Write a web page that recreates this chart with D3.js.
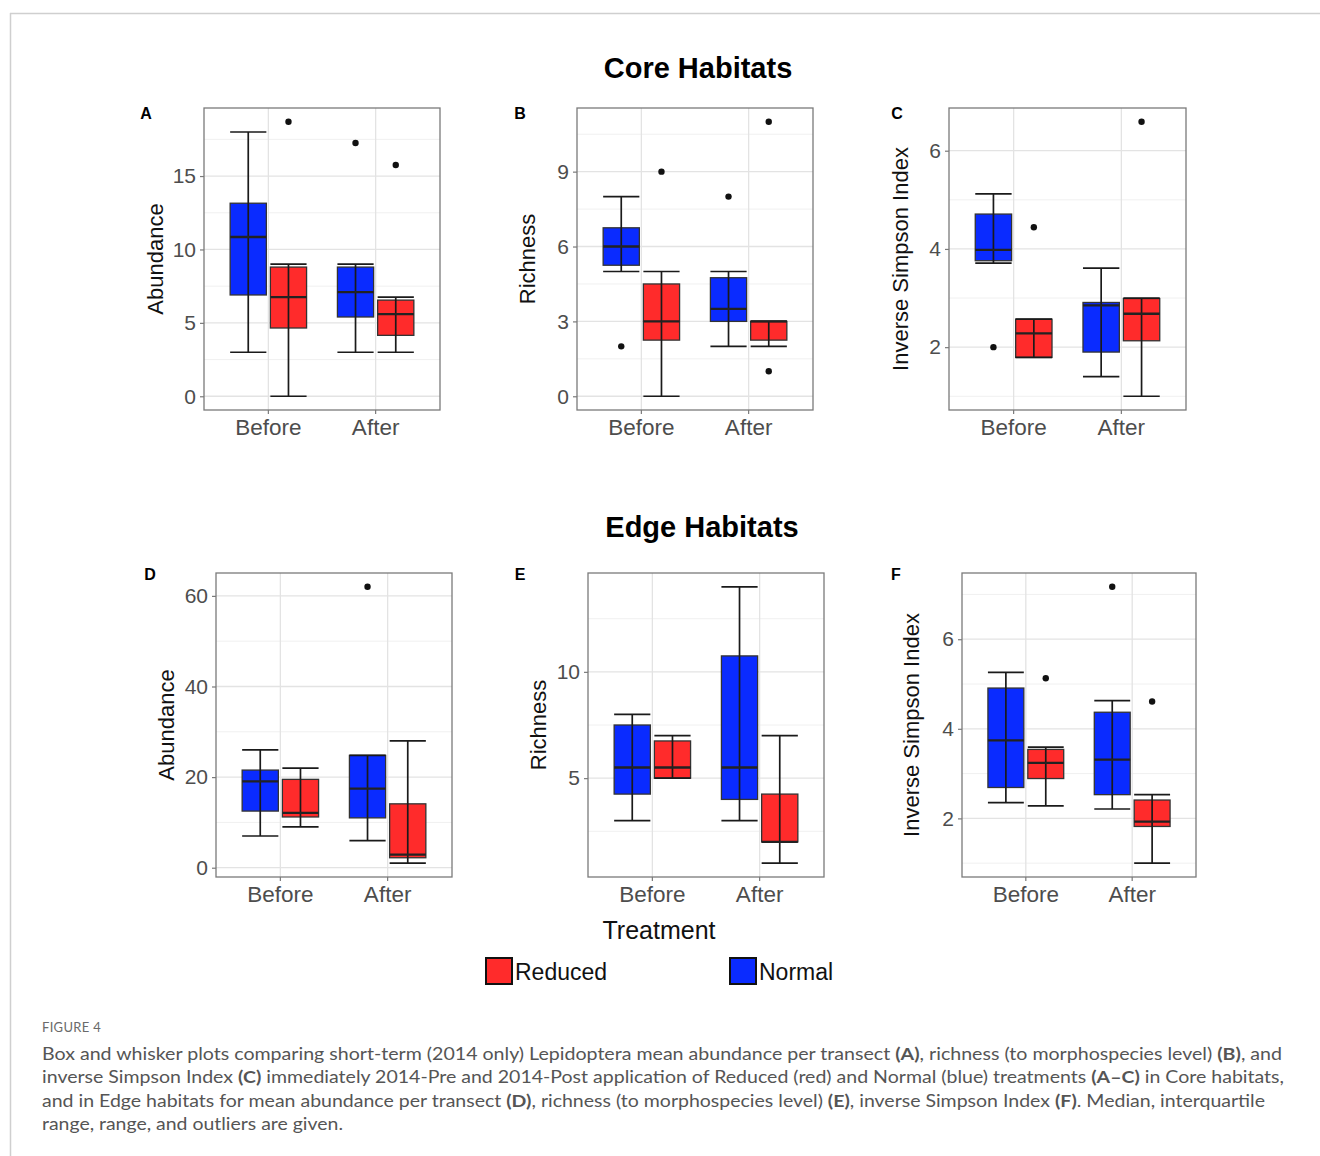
<!DOCTYPE html>
<html>
<head>
<meta charset="utf-8">
<script src="https://cdn.jsdelivr.net/npm/d3@7"></script>
<style>
  html, body { margin: 0; padding: 0; background: #fff; }
  svg { display: block; }
</style>
</head>
<body>
<svg id="fig" width="1320" height="1156"></svg>
<script>
//Categories and groups
const treatments = ["Before", "After"];
const groups = ["Normal", "Reduced"];
const legendOrder = ["Reduced", "Normal"];

//Box summaries [lower whisker, q1, median, q3, upper whisker]
//order: Before-Normal, Before-Reduced, After-Normal, After-Reduced
const coreAbundance = [[3, 6.9, 10.85, 13.15, 18], [0, 4.65, 6.75, 8.8, 9], [3, 5.4, 7.1, 8.8, 9], [3, 4.15, 5.6, 6.55, 6.75]];
const coreAbundanceOut = [[], [18.7], [17.25], [15.75]];
const coreRichness = [[5, 5.25, 6, 6.75, 8], [0, 2.25, 3, 4.5, 5], [2, 3, 3.5, 4.75, 5], [2, 2.25, 3, 3, 3]];
const coreRichnessOut = [[2], [9], [8], [11, 1]];
const coreSimpson = [[3.71, 3.76, 3.98, 4.71, 5.12], [1.79, 1.79, 2.28, 2.57, 2.57], [1.4, 1.9, 2.85, 2.91, 3.61], [1.0, 2.13, 2.68, 2.99, 3.0]];
const coreSimpsonOut = [[2.0], [4.44], [], [6.59]];
const edgeAbundance = [[7, 12.5, 19.05, 21.55, 26], [9, 11.2, 12.1, 19.5, 22], [6, 11, 17.45, 24.8, 24.8], [1, 2.2, 2.9, 14.1, 28]];
const edgeAbundanceOut = [[], [], [62], []];
const edgeRichness = [[3, 4.25, 5.5, 7.5, 8], [5, 5, 5.5, 6.75, 7], [3, 4, 5.5, 10.75, 14], [1, 2, 2, 4.25, 7]];
const edgeRichnessOut = [[], [], [], []];
const edgeSimpson = [[2.35, 2.69, 3.74, 4.91, 5.26], [2.28, 2.89, 3.24, 3.54, 3.59], [2.21, 2.53, 3.31, 4.37, 4.63], [1.0, 1.82, 1.93, 2.41, 2.53]];
const edgeSimpsonOut = [[], [5.13], [7.17], [4.61]];

//Tick labels for each panel
const coreAbundanceTicks = [0, 5, 10, 15];
const coreRichnessTicks = [0, 3, 6, 9];
const coreSimpsonTicks = [2, 4, 6];
const edgeAbundanceTicks = [0, 20, 40, 60];
const edgeRichnessTicks = [5, 10];
const edgeSimpsonTicks = [2, 4, 6];

const FONT = "'Liberation Sans', Arial, Helvetica, sans-serif";
const colors = { Normal: "#0a2bff", Reduced: "#ff2b2b" };

const svg = d3.select("#fig");

//Frame round the figure
svg.append("line").attr("x1", 10).attr("x2", 1320).attr("y1", 13.5).attr("y2", 13.5)
    .attr("stroke", "#cfcfcf").attr("stroke-width", 1.5);
svg.append("line").attr("x1", 10.5).attr("x2", 10.5).attr("y1", 13).attr("y2", 1156)
    .attr("stroke", "#cfcfcf").attr("stroke-width", 1.5);

//Section titles
svg.append("text").attr("x", 698).attr("y", 78).attr("text-anchor", "middle")
    .attr("font-family", FONT).attr("font-weight", "bold").attr("font-size", 29)
    .text("Core Habitats");
svg.append("text").attr("x", 702).attr("y", 537).attr("text-anchor", "middle")
    .attr("font-family", FONT).attr("font-weight", "bold").attr("font-size", 29)
    .text("Edge Habitats");

//Panel layout
const panels = [
    { letter: "A", lx: 146, ly: 119, x: 204, y: 108, w: 236, h: 302, tx: 155, title: "Abundance", stats: coreAbundance, out: coreAbundanceOut, ticks: coreAbundanceTicks },
    { letter: "B", lx: 520, ly: 119, x: 577, y: 108, w: 236, h: 302, tx: 527, title: "Richness", stats: coreRichness, out: coreRichnessOut, ticks: coreRichnessTicks },
    { letter: "C", lx: 897, ly: 119, x: 949, y: 108, w: 237, h: 302, tx: 900, title: "Inverse Simpson Index", stats: coreSimpson, out: coreSimpsonOut, ticks: coreSimpsonTicks },
    { letter: "D", lx: 150, ly: 580, x: 216, y: 573, w: 236, h: 304, tx: 166, title: "Abundance", stats: edgeAbundance, out: edgeAbundanceOut, ticks: edgeAbundanceTicks },
    { letter: "E", lx: 520, ly: 580, x: 588, y: 573, w: 236, h: 304, tx: 538, title: "Richness", stats: edgeRichness, out: edgeRichnessOut, ticks: edgeRichnessTicks },
    { letter: "F", lx: 896, ly: 580, x: 962, y: 573, w: 234, h: 304, tx: 911, title: "Inverse Simpson Index", stats: edgeSimpson, out: edgeSimpsonOut, ticks: edgeSimpsonTicks }
];

panels.forEach(drawPanel);

//Function to draw one box plot panel
function drawPanel(p) {
    let g = svg.append("g");

    //y domain from data with 5% expansion like ggplot
    let all = p.stats.flat().concat(p.out.flat());
    let lo = d3.min(all), hi = d3.max(all);
    let pad = (hi - lo) * 0.05;
    let y = d3.scaleLinear().domain([lo - pad, hi + pad]).range([p.y + p.h, p.y]);

    //x: discrete with 0.6 unit padding each side
    let x = d3.scaleBand().domain(treatments).range([p.x, p.x + p.w])
        .paddingInner(0).paddingOuter(0.1);
    let step = x.step();
    let boxW = step * 0.3375;
    let offset = { Normal: -step * 0.1875, Reduced: step * 0.1875 };

    //Minor gridlines halfway between the breaks
    let half = (p.ticks[1] - p.ticks[0]) / 2;
    let minor = [p.ticks[0] - half].concat(p.ticks.map(t => t + half))
        .filter(v => v > y.domain()[0] && v < y.domain()[1]);

    g.selectAll(".minor").data(minor).enter().append("line")
        .attr("x1", p.x).attr("x2", p.x + p.w)
        .attr("y1", d => y(d)).attr("y2", d => y(d))
        .attr("stroke", "#f0f0f0").attr("stroke-width", 1);

    g.selectAll(".major").data(p.ticks).enter().append("line")
        .attr("x1", p.x).attr("x2", p.x + p.w)
        .attr("y1", d => y(d)).attr("y2", d => y(d))
        .attr("stroke", "#e3e3e3").attr("stroke-width", 1.3);

    g.selectAll(".vmajor").data(treatments).enter().append("line")
        .attr("x1", d => x(d) + step / 2).attr("x2", d => x(d) + step / 2)
        .attr("y1", p.y).attr("y2", p.y + p.h)
        .attr("stroke", "#e3e3e3").attr("stroke-width", 1.3);

    //Boxes
    let boxes = [];
    treatments.forEach((t, ti) => {
        groups.forEach((gr, gi) => {
            boxes.push({ t: t, g: gr, s: p.stats[ti * 2 + gi], out: p.out[ti * 2 + gi] });
        });
    });

    boxes.forEach(b => {
        let cx = x(b.t) + step / 2 + offset[b.g];
        let s = b.s;

        g.append("rect")
            .attr("x", cx - boxW / 2).attr("width", boxW)
            .attr("y", y(s[3])).attr("height", Math.max(1, y(s[1]) - y(s[3])))
            .attr("fill", colors[b.g])
            .attr("stroke", "#333").attr("stroke-width", 1.3);

        //Error bar whiskers on top of the box
        g.append("line").attr("x1", cx).attr("x2", cx)
            .attr("y1", y(s[0])).attr("y2", y(s[4]))
            .attr("stroke", "#1a1a1a").attr("stroke-width", 1.7);
        [s[0], s[4]].forEach(v => {
            g.append("line").attr("x1", cx - boxW / 2).attr("x2", cx + boxW / 2)
                .attr("y1", y(v)).attr("y2", y(v))
                .attr("stroke", "#1a1a1a").attr("stroke-width", 1.7);
        });

        //Median
        g.append("line").attr("x1", cx - boxW / 2).attr("x2", cx + boxW / 2)
            .attr("y1", y(s[2])).attr("y2", y(s[2]))
            .attr("stroke", "#222").attr("stroke-width", 2.3);

        //Outliers
        g.selectAll(null).data(b.out).enter().append("circle")
            .attr("cx", cx).attr("cy", d => y(d)).attr("r", 3.2)
            .attr("fill", "#111");
    });

    //Panel border
    g.append("rect").attr("x", p.x).attr("y", p.y).attr("width", p.w).attr("height", p.h)
        .attr("fill", "none").attr("stroke", "#7a7a7a").attr("stroke-width", 1.3);

    //Y axis
    let yAxis = g.append("g").attr("transform", `translate(${p.x},0)`)
        .call(d3.axisLeft(y).tickValues(p.ticks).tickSize(4).tickPadding(4).tickFormat(d3.format("d")));
    yAxis.select(".domain").remove();
    yAxis.selectAll("line").attr("stroke", "#7a7a7a").attr("stroke-width", 1.2);
    yAxis.selectAll("text").attr("font-family", FONT).attr("font-size", 21).attr("fill", "#4d4d4d");

    //X axis
    let xAxis = g.append("g").attr("transform", `translate(0,${p.y + p.h})`)
        .call(d3.axisBottom(x).tickSize(4).tickPadding(5));
    xAxis.select(".domain").remove();
    xAxis.selectAll("line").attr("stroke", "#7a7a7a").attr("stroke-width", 1.2);
    xAxis.selectAll("text").attr("font-family", FONT).attr("font-size", 22.5).attr("fill", "#4d4d4d");

    //Axis title
    g.append("text")
        .attr("transform", `translate(${p.tx},${p.y + p.h / 2}) rotate(-90)`)
        .attr("text-anchor", "middle").attr("dominant-baseline", "central")
        .attr("font-family", FONT).attr("font-size", 22).attr("fill", "#111")
        .text(p.title);

    //Panel letter
    g.append("text").attr("x", p.lx).attr("y", p.ly).attr("text-anchor", "middle")
        .attr("font-family", FONT).attr("font-weight", "bold").attr("font-size", 16)
        .text(p.letter);
}

//Shared x title and legend
svg.append("text").attr("x", 659).attr("y", 939).attr("text-anchor", "middle")
    .attr("font-family", FONT).attr("font-size", 25).attr("fill", "#111")
    .text("Treatment");

const legendX = { Reduced: 486, Normal: 730 };
const legend = svg.selectAll(".legend").data(legendOrder).enter().append("g");
legend.append("rect")
    .attr("x", d => legendX[d]).attr("y", 958).attr("width", 26).attr("height", 26)
    .attr("fill", d => colors[d]).attr("stroke", "#111").attr("stroke-width", 2);
legend.append("text")
    .attr("x", d => legendX[d] + 29).attr("y", 980)
    .attr("font-family", FONT).attr("font-size", 23).attr("fill", "#111")
    .text(d => d);

//Caption
const CAP = "Lato, 'Noto Sans', sans-serif";
svg.append("text").attr("x", 42).attr("y", 1032)
    .attr("font-family", CAP).attr("font-size", 13).attr("fill", "#6a6a6a")
    .attr("letter-spacing", 0.3)
    .text("FIGURE 4");

const captionLines = [
    [["Box and whisker plots comparing short-term (2014 only) Lepidoptera mean abundance per transect ", 0], ["(A)", 1], [", richness (to morphospecies level) ", 0], ["(B)", 1], [", and", 0]],
    [["inverse Simpson Index ", 0], ["(C)", 1], [" immediately 2014-Pre and 2014-Post application of Reduced (red) and Normal (blue) treatments ", 0], ["(A\u2013C)", 1], [" in Core habitats,", 0]],
    [["and in Edge habitats for mean abundance per transect ", 0], ["(D)", 1], [", richness (to morphospecies level) ", 0], ["(E)", 1], [", inverse Simpson Index ", 0], ["(F)", 1], [". Median, interquartile", 0]],
    [["range, range, and outliers are given.", 0]]
];
const captionWidths = [1240, 1242, 1223, 301];

captionLines.forEach((line, i) => {
    let t = svg.append("text").attr("x", 42).attr("y", 1060 + i * 23.3)
        .attr("font-family", CAP).attr("font-size", 17).attr("fill", "#555")
        .attr("textLength", captionWidths[i]).attr("lengthAdjust", "spacingAndGlyphs");
    line.forEach(part => {
        t.append("tspan").attr("font-weight", part[1] ? "bold" : "normal").text(part[0]);
    });
});
</script>
</body>
</html>
